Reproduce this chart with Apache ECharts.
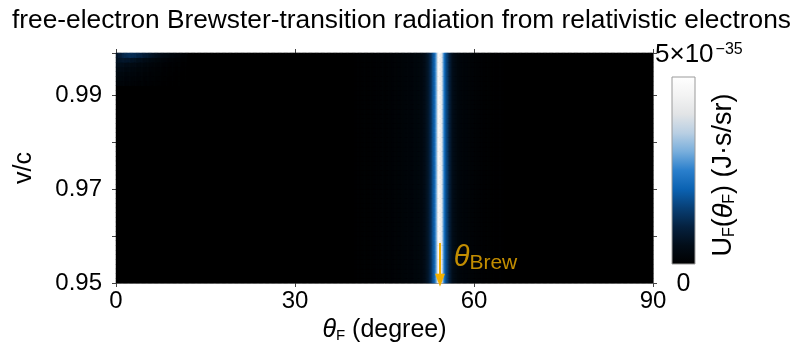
<!DOCTYPE html>
<html><head><meta charset="utf-8">
<script src="https://cdn.jsdelivr.net/npm/echarts@6/dist/echarts.min.js"></script>
<style>html,body{margin:0;padding:0;background:#fff}#c{width:803px;height:350px}</style>
</head><body><div id="c"></div>
<script>
// ---- data (values in units of 1e-35 J·s/sr) ----
const thetaRange = [0, 90];          // degree
const vcRange = [0.95, 0.999];       // v/c
const thetaBin = 0.2;                // heatmap column width (degree)
const vcBin = 0.001;                 // heatmap row height (v/c)
const xTickValues = [0, 30, 60, 90];
const yTickLabels = ['0.95', '0.97', '0.99'];
const colorMax = 5;                  // 5×10^-35

// Brewster line profile (bin centres, degree) and values
const lineTheta = [51.1,51.3,51.5,51.7,51.9,52.1,52.3,52.5,52.7,52.9,53.1,53.3,53.5,53.7,53.9,54.1,54.3,
                   54.5,54.7,54.9,55.1,55.3,55.5,55.7,55.9,56.1,56.3,56.5,56.7,56.9,57.1,57.3,57.5];
const lineValue = [0.32,0.36,0.40,0.46,0.53,0.62,0.74,0.90,1.10,1.35,1.65,1.95,2.30,2.90,3.80,4.60,5.00,
                   4.60,3.70,2.80,2.20,1.85,1.55,1.25,1.00,0.80,0.65,0.53,0.44,0.37,0.32,0.28,0.25];
// faint tails of the line (per whole degree)
const tailDeg   = [40,41,42,43,44,45,46,47,48,49,50,57,58,59,60,61,62,63,64];
const tailValue = [0.05,0.06,0.07,0.08,0.10,0.11,0.13,0.15,0.18,0.21,0.25,0.22,0.18,0.14,0.11,0.09,0.07,0.05,0.04];

// transition-radiation glow near θ≈1/γ (rows: v/c bin centres, columns: half-degree steps from 0°)
const glowVc = [0.9985, 0.9975, 0.9965, 0.9955, 0.9945, 0.9935, 0.9925];
const glow = [
  [0.70,0.92,1.08,1.18,1.22,1.20,1.15,1.08,1.00,0.91,0.82,0.74,0.66,0.58,0.51,0.44,0.38,0.33,0.28,0.24,0.20,0.16,0.13,0.10],
  [0.62,0.72,0.76,0.75,0.72,0.67,0.62,0.57,0.52,0.47,0.42,0.37,0.33,0.29,0.26,0.23,0.20,0.17,0.15,0.13,0.11,0.09,0.07,0.06],
  [0.52,0.54,0.52,0.49,0.46,0.42,0.39,0.35,0.32,0.29,0.26,0.23,0.21,0.18,0.16,0.14,0.12,0.11,0.09,0.08,0.07,0.06,0.05,0.04],
  [0.42,0.41,0.39,0.36,0.33,0.31,0.28,0.26,0.23,0.21,0.19,0.17,0.15,0.13,0.12,0.10,0.09,0.08,0.07,0.06,0.05,0.04,0.04,0.03],
  [0.33,0.32,0.30,0.28,0.26,0.24,0.22,0.20,0.18,0.16,0.15,0.13,0.12,0.11,0.10,0.09,0.08,0.07,0.06,0.05,0.04,0.03,0.03,0.02],
  [0.26,0.25,0.23,0.21,0.20,0.18,0.17,0.15,0.14,0.13,0.12,0.11,0.10,0.09,0.08,0.07,0.06,0.05,0.04,0.04,0.03,0.03,0.02,0.02],
  [0.20,0.19,0.18,0.17,0.15,0.14,0.13,0.12,0.11,0.10,0.09,0.08,0.07,0.06,0.06,0.05,0.04,0.04,0.03,0.03,0.02,0.02,0.02,0.01]
];
const glowStep = 0.5; // degree per glow column
// Brewster-angle annotation
const brewAngle = 54.3;
const arrowVc = [0.9585, 0.9506];
const brewLabelPos = [56.6, 0.9553];

const cmap = ['#000000','#020d18','#05213f','#083f75','#0b62b2','#2a7fcc','#78aedc','#b9cfe3','#e2e4e6','#f3f3f3','#ffffff'];

// ---- build heatmap grid from arrays ----
const nX = Math.round((thetaRange[1]-thetaRange[0])/thetaBin);
const nY = Math.round((vcRange[1]-vcRange[0])/vcBin);
const xCats = [], yCats = [];
for (let i=0;i<nX;i++) xCats.push((Math.round((thetaRange[0]+(i+0.5)*thetaBin)*10)/10).toFixed(1));
for (let j=0;j<nY;j++) yCats.push((Math.round((vcRange[0]+(j+0.5)*vcBin)*10000)/10000).toFixed(4));
function lineAt(t){
  const k = lineTheta.findIndex(v => Math.abs(v-t) < 1e-6);
  if (k >= 0) return lineValue[k];
  const j = tailDeg.indexOf(Math.floor(t+1e-9));
  return j >= 0 ? tailValue[j] : 0;
}
function glowAt(t, vc){
  const r = glowVc.findIndex(v => Math.abs(v-vc) < 1e-6);
  if (r < 0) return 0;
  const c = Math.floor(t/glowStep+1e-9);
  return c < glow[r].length ? glow[r][c] : 0;
}
const heat = [];
for (let i=0;i<nX;i++){
  const t = parseFloat(xCats[i]);
  for (let j=0;j<nY;j++){
    const vc = parseFloat(yCats[j]);
    heat.push([i, j, Math.min(colorMax, lineAt(t) + glowAt(t, vc))]);
  }
}

const FONT = 'Liberation Sans, Arial, Helvetica, sans-serif';
const ORANGE = '#f2b000';
const CB = {x: 672, y: 77, w: 23, h: 187};
const chart = echarts.init(document.getElementById('c'), null, {renderer:'canvas'});
chart.setOption({
  animation: false,
  backgroundColor: '#fff',
  title: {
    text: 'free-electron Brewster-transition radiation from relativistic electrons',
    left: 'center', top: 3,
    textStyle: {fontFamily: FONT, fontSize: 26.3, fontWeight: 'normal', color: '#000'}
  },
  grid: {left: 116, right: 150, top: 53, bottom: 67, show: true, backgroundColor: '#000', borderWidth: 0},
  xAxis: [
    {type: 'category', data: xCats, show: false, boundaryGap: true},
    {type: 'value', min: thetaRange[0], max: thetaRange[1], interval: 30, position: 'bottom',
     axisLine: {show: true, lineStyle: {color: '#8a8a8a', width: 1}},
     axisTick: {show: true, length: 4, lineStyle: {color: '#444'}},
     splitLine: {show: false},
     axisLabel: {color: '#000', fontFamily: FONT, fontSize: 24, margin: 6,
       formatter: v => xTickValues.includes(Math.round(v)) ? String(Math.round(v)) : ''},
     name: '{th|θ}{sub|F}{n| (degree)}', nameLocation: 'middle', nameGap: 34,
     nameTextStyle: {fontFamily: FONT, color: '#000', rich: {
       th: {fontFamily: FONT, fontSize: 25, fontStyle: 'italic', color: '#000'},
       sub: {fontFamily: FONT, fontSize: 15, color: '#000', verticalAlign: 'bottom', padding: [8,0,0,0]},
       n: {fontFamily: FONT, fontSize: 25, color: '#000'}}}},
    {type: 'value', min: thetaRange[0], max: thetaRange[1], interval: 30, position: 'top',
     axisLine: {show: true, lineStyle: {color: '#8a8a8a', width: 1}},
     axisTick: {show: true, length: 4, lineStyle: {color: '#444'}},
     axisLabel: {show: false}, splitLine: {show: false}}
  ],
  yAxis: [
    {type: 'category', data: yCats, show: false, boundaryGap: true},
    {type: 'value', min: vcRange[0], max: vcRange[1], interval: 0.01, position: 'left',
     axisLine: {show: true, lineStyle: {color: '#8a8a8a', width: 1}},
     axisTick: {show: true, length: 4, lineStyle: {color: '#444'}},
     splitLine: {show: false}, showMaxLabel: false,
     axisLabel: {color: '#000', fontFamily: FONT, fontSize: 24, margin: 14,
       formatter: v => { const s = (Math.round(v*100)/100).toFixed(2); return (Math.abs(v*100-Math.round(v*100))<1e-6 && yTickLabels.includes(s)) ? s : ''; }},
     name: 'v/c', nameLocation: 'middle', nameGap: 79, nameRotate: 90,
     nameTextStyle: {fontFamily: FONT, fontSize: 25, color: '#000'}},
    {type: 'value', min: vcRange[0], max: vcRange[1], interval: 0.01, position: 'right',
     axisLine: {show: true, lineStyle: {color: '#8a8a8a', width: 1}},
     axisTick: {show: true, length: 4, lineStyle: {color: '#444'}},
     axisLabel: {show: false}, splitLine: {show: false}}
  ],
  visualMap: {
    type: 'continuous', show: false, min: 0, max: colorMax, seriesIndex: 0,
    inRange: {color: cmap}
  },
  graphic: [
    {type: 'rect', x: CB.x, y: CB.y, shape: {width: CB.w, height: CB.h}, silent: true, z: 100,
     style: {stroke: '#9a9a9a', lineWidth: 1,
       fill: new echarts.graphic.LinearGradient(0, 1, 0, 0,
         cmap.map((c, k) => ({offset: k/(cmap.length-1), color: c})))}},
    {type: 'text', x: 655, y: 68, silent: true,
     style: {text: '{a|5×10}{s|−35}', rich: {
       a: {fontFamily: FONT, fontSize: 26, fill: '#000'},
       s: {fontFamily: FONT, fontSize: 16, fill: '#000', verticalAlign: 'top', padding: [0,0,10,2]}},
       verticalAlign: 'bottom', align: 'left'}},
    {type: 'text', x: CB.x + CB.w/2, y: 284, silent: true,
     style: {text: '0', fontFamily: FONT, fontSize: 25, fill: '#000', align: 'center', verticalAlign: 'middle'}},
    {type: 'text', x: 724, y: 175, rotation: Math.PI/2, silent: true,
     style: {text: '{n|U}{sub|F}{n|(}{th|θ}{sub|F}{n|) (J·s/sr)}', align: 'center', verticalAlign: 'middle',
       rich: {
         n: {fontFamily: FONT, fontSize: 27, fill: '#000'},
         th: {fontFamily: FONT, fontSize: 27, fontStyle: 'italic', fill: '#000'},
         sub: {fontFamily: FONT, fontSize: 16, fill: '#000', verticalAlign: 'bottom', padding: [9,0,0,0]}}}}
  ],
  series: [
    {type: 'heatmap', xAxisIndex: 0, yAxisIndex: 0, data: heat, progressive: 0,
     itemStyle: {borderWidth: 0}, emphasis: {disabled: true}},
    {type: 'scatter', xAxisIndex: 1, yAxisIndex: 1, symbolSize: 0, silent: true,
     data: [brewLabelPos],
     label: {show: true, position: 'right', distance: 0,
       formatter: '{th|θ}{sub|Brew}',
       rich: {
         th: {fontFamily: FONT, fontSize: 29, fontStyle: 'italic', color: ORANGE},
         sub: {fontFamily: FONT, fontSize: 21, color: ORANGE, verticalAlign: 'bottom', padding: [10,0,0,0]}}},
     markLine: {silent: true, symbol: ['none', 'triangle'], symbolSize: [10, 13], label: {show: false},
       lineStyle: {color: ORANGE, width: 2, type: 'solid'},
       data: [[{coord: [brewAngle, arrowVc[0]]}, {coord: [brewAngle, arrowVc[1]]}]]}}
  ]
});
</script></body></html>
